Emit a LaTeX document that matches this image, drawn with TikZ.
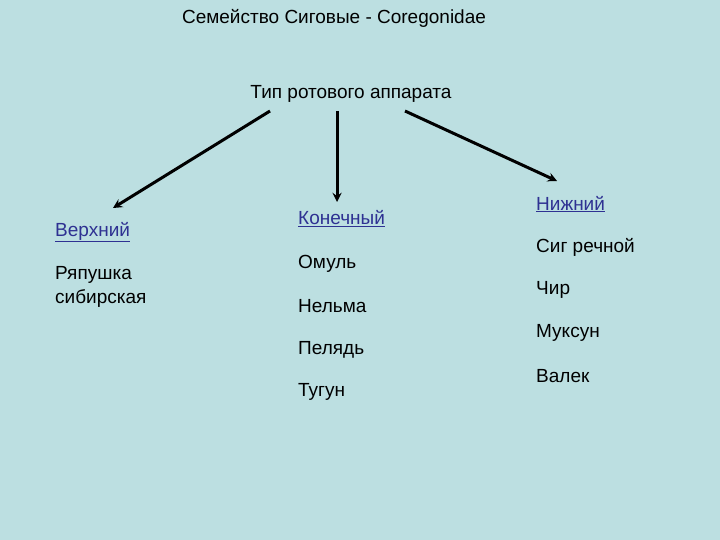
\documentclass[tikz,border=0pt]{standalone}
\usepackage{fontspec}
\setmainfont{Liberation Sans}
\usepackage{tikz}
\definecolor{fonbg}{HTML}{BCDFE1}
\definecolor{ssylka}{HTML}{2E3192}

\begin{document}
\begin{tikzpicture}[x=1pt,y=-1pt,
    every node/.style={inner sep=0pt,font=\fontsize{19}{24}\selectfont},
    vid/.style={anchor=west},
    gruppa/.style={anchor=west,text=ssylka},
    strelka/.style={draw=black,line width=3pt,-stealth}]
      % fon
      \fill[fonbg] (0,0) rectangle (720,540);
      \useasboundingbox (0,0) rectangle (720,540);
      % Zagolovki
      \node (sem) at (334,18) {Семейство Сиговые - Coregonidae};
      \node (tip) at (351,94) {Тип ротового аппарата};
      % Gruppy
      \node[gruppa] (verh) at (55,232) {\underline{Верхний}};
      \node[gruppa] (kon)  at (298,219) {\underline{Конечный}};
      \node[gruppa] (niz)  at (536,204) {\underline{Нижний}};
      % Vidy
      \node[vid,align=left] (ryap) at (55,287) {Ряпушка\\сибирская};
      \node[vid] (omul)  at (298,264) {Омуль};
      \node[vid] (nelma) at (298,306) {Нельма};
      \node[vid] (pel)   at (298,350) {Пелядь};
      \node[vid] (tug)   at (298,392) {Тугун};
      \node[vid] (sig)   at (536,247) {Сиг речной};
      \node[vid] (chir)  at (536,290) {Чир};
      \node[vid] (muks)  at (536,333) {Муксун};
      \node[vid] (valek) at (536,376) {Валек};
      % Strelki
      \coordinate (s1) at (270,111);
      \coordinate (s2) at (337,111);
      \coordinate (s3) at (405,111);
      \coordinate (e1) at (113,208);
      \coordinate (e2) at (337,202);
      \coordinate (e3) at (557,181);
      \draw[strelka] (s1) -- (e1);
      \draw[strelka] (s2) -- (e2);
      \draw[strelka] (s3) -- (e3);
    \end{tikzpicture}
\end{document}
